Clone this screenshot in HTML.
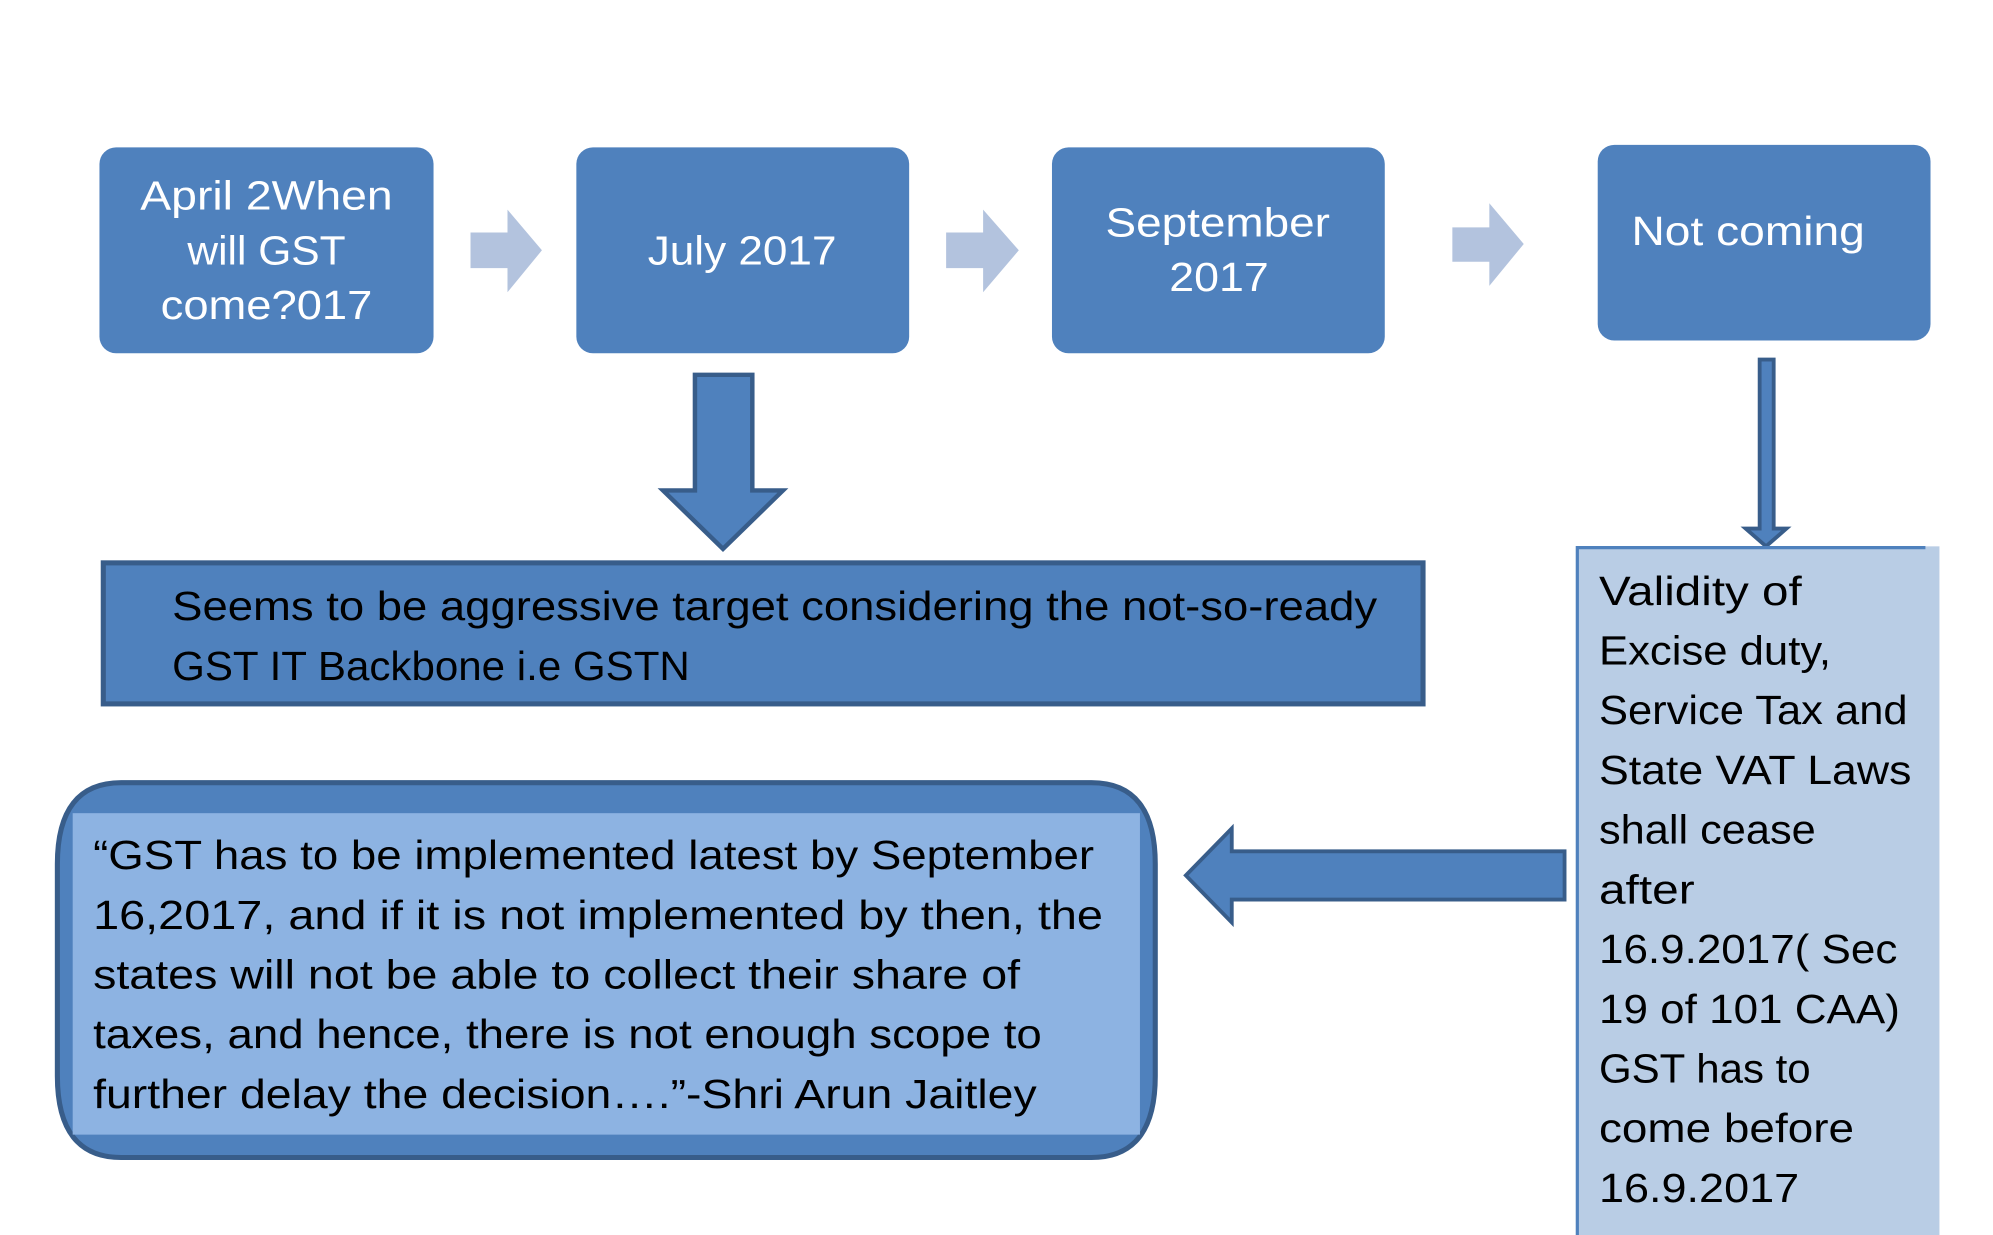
<!DOCTYPE html>
<html><head><meta charset="utf-8"><style>
html,body{margin:0;padding:0;background:#fff;}
svg{display:block;}
text{font-family:"Liberation Sans",sans-serif;}
</style></head><body>
<svg width="1993" height="1235" viewBox="0 0 1563 972" preserveAspectRatio="none" xmlns="http://www.w3.org/2000/svg">
<rect width="1563" height="972" fill="#fff"/>
<!-- top boxes -->
<rect x="78" y="116" width="262" height="162" rx="13" fill="#4F81BD"/>
<rect x="452" y="116" width="261" height="162" rx="13" fill="#4F81BD"/>
<rect x="825" y="116" width="261" height="162" rx="13" fill="#4F81BD"/>
<rect x="1253" y="114" width="261" height="154" rx="13" fill="#4F81BD"/>
<g fill="#fff" font-size="32" text-anchor="middle">
<text x="209" y="165" textLength="198" lengthAdjust="spacingAndGlyphs">April 2When</text>
<text x="209" y="208" textLength="124" lengthAdjust="spacingAndGlyphs">will GST</text>
<text x="209" y="251" textLength="166" lengthAdjust="spacingAndGlyphs">come?017</text>
<text x="582" y="208" textLength="148" lengthAdjust="spacingAndGlyphs">July 2017</text>
<text x="955" y="186" textLength="176" lengthAdjust="spacingAndGlyphs">September</text>
<text x="956" y="229" textLength="78" lengthAdjust="spacingAndGlyphs">2017</text>
<text x="1371" y="193" textLength="183" lengthAdjust="spacingAndGlyphs">Not coming</text>
</g>
<!-- chevron arrows -->
<g fill="#B3C3DE">
<polygon points="369,183 398,183 398,165 425,197 398,230 398,211 369,211"/>
<polygon points="742,183 771,183 771,165 799,197 771,230 771,211 742,211"/>
<polygon points="1139,179 1168,179 1168,160 1195,192 1168,225 1168,206 1139,206"/>
</g>
<!-- big down arrow -->
<polygon points="545,295 590,295 590,386 614,386 567,432 520,386 545,386" fill="#4F81BD" stroke="#385D8A" stroke-width="3.5" stroke-linejoin="miter"/>
<!-- rect -->
<rect x="81" y="443" width="1035" height="111" fill="#4F81BD" stroke="#385D8A" stroke-width="4"/>
<g fill="#000" font-size="32">
<text x="135" y="488" textLength="945" lengthAdjust="spacingAndGlyphs">Seems to be aggressive target considering the not-so-ready</text>
<text x="135" y="535" textLength="406" lengthAdjust="spacingAndGlyphs">GST IT Backbone i.e GSTN</text>
</g>
<!-- thin down arrow -->
<polygon points="1380,283 1391,283 1391,416 1401,416 1385,430 1369,416 1380,416" fill="#4F81BD" stroke="#385D8A" stroke-width="3"/>
<!-- right box -->
<rect x="1236" y="430" width="285" height="560" fill="#B9CDE5"/>
<path d="M1237,990 L1237,431 L1510,431" fill="none" stroke="#4F81BD" stroke-width="2.5"/>
<g fill="#000" font-size="32">
<text x="1254" y="476" textLength="159" lengthAdjust="spacingAndGlyphs">Validity of</text>
<text x="1254" y="523" textLength="182" lengthAdjust="spacingAndGlyphs">Excise duty,</text>
<text x="1254" y="570" textLength="242" lengthAdjust="spacingAndGlyphs">Service Tax and</text>
<text x="1254" y="617" textLength="245" lengthAdjust="spacingAndGlyphs">State  VAT Laws</text>
<text x="1254" y="664" textLength="170" lengthAdjust="spacingAndGlyphs">shall cease</text>
<text x="1254" y="711" textLength="75" lengthAdjust="spacingAndGlyphs">after</text>
<text x="1254" y="758" textLength="234" lengthAdjust="spacingAndGlyphs">16.9.2017( Sec</text>
<text x="1254" y="805" textLength="236" lengthAdjust="spacingAndGlyphs">19 of 101 CAA)</text>
<text x="1254" y="852" textLength="166" lengthAdjust="spacingAndGlyphs">GST has to</text>
<text x="1254" y="899" textLength="200" lengthAdjust="spacingAndGlyphs">come before</text>
<text x="1254" y="946" textLength="157" lengthAdjust="spacingAndGlyphs">16.9.2017</text>
</g>
<!-- left arrow -->
<polygon points="1227,670 966,670 966,652 930,689 966,726 966,708 1227,708" fill="#4F81BD" stroke="#385D8A" stroke-width="3"/>
<!-- quote box -->
<path d="M95,616 L856,616 Q906,616 906,680 L906,847 Q906,911 856,911 L95,911 Q45,911 45,847 L45,680 Q45,616 95,616 Z" fill="#4F81BD" stroke="#385D8A" stroke-width="4"/>
<rect x="57" y="640" width="837" height="253" fill="#8DB3E2"/>
<g fill="#000" font-size="32">
<text x="73" y="684" textLength="785" lengthAdjust="spacingAndGlyphs">“GST has to be implemented latest by September</text>
<text x="73" y="731" textLength="792" lengthAdjust="spacingAndGlyphs">16,2017, and if it is not implemented by then, the</text>
<text x="73" y="778" textLength="727" lengthAdjust="spacingAndGlyphs">states will not be able to collect their share of</text>
<text x="73" y="825" textLength="744" lengthAdjust="spacingAndGlyphs">taxes, and hence, there is not enough scope to</text>
<text x="73" y="872" textLength="740" lengthAdjust="spacingAndGlyphs">further delay the decision….”-Shri  Arun Jaitley</text>
</g>
</svg>
</body></html>
